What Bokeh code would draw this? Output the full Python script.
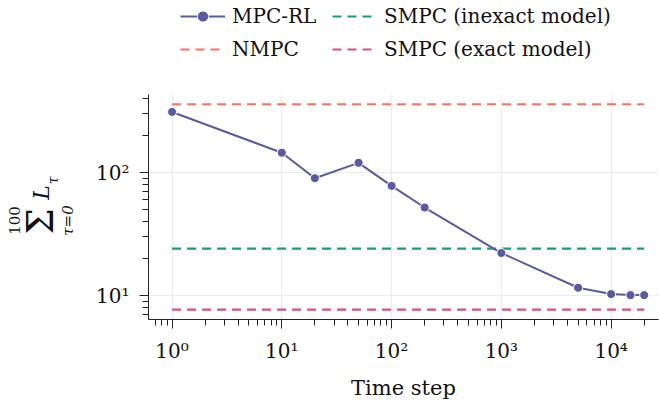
import math
from bokeh.plotting import figure
from bokeh.layouts import column, row
from bokeh.models import (Legend, LegendItem, CustomJSTickFormatter,
                          Range1d, FixedTicker)
from bokeh.core.properties import value
from bokeh.embed import file_html
from bokeh.resources import INLINE

# ---- data ----
steps = [1, 10, 20, 50, 100, 200, 1000, 5000, 10000, 15000, 20000]
mpc_rl = [311, 145, 90, 120, 78, 52, 22.2, 11.6, 10.3, 10.1, 10.1]
nmpc_value = 359
smpc_inexact_value = 24.1
smpc_exact_value = 7.7
y_major_ticks = [10, 100]
y_minor_ticks = [7, 8, 9, 20, 30, 40, 50, 60, 70, 80, 90, 200, 300, 400]

FONT = "DejaVu Serif"
C_RL = "#5a5aa0"
C_NMPC = "#ff6f5e"
C_SI = "#10a07a"
C_SE = "#dc5078"
DASH = "9 6"
NAN = float("nan")

TOP_H = 94
LEFT_W = 80
BOTTOM_B = 84
W, H = 659, 403

# ---------------- main plot ----------------
p = figure(width=W - LEFT_W, height=H - TOP_H, x_axis_type="log", y_axis_type="log",
           output_backend="svg", toolbar_location=None,
           x_range=Range1d(0.61, 27000), y_range=Range1d(6.4, 431),
           min_border_left=148 - LEFT_W, min_border_right=1, min_border_top=0,
           min_border_bottom=BOTTOM_B)
p.outline_line_color = None

xs = [steps[0], steps[-1]]
p.line(xs, [nmpc_value] * 2, line_color=C_NMPC, line_width=2.2, line_dash=DASH)
p.line(xs, [smpc_inexact_value] * 2, line_color=C_SI, line_width=2.2, line_dash=DASH)
p.line(xs, [smpc_exact_value] * 2, line_color=C_SE, line_width=2.2, line_dash=DASH)
p.line(steps, mpc_rl, line_color=C_RL, line_width=2)
p.scatter(steps, mpc_rl, size=9, fill_color=C_RL, line_color="white", line_width=1)

sup_js = """
const sup = {"-":"\u207b","0":"\u2070","1":"\u00b9","2":"\u00b2","3":"\u00b3","4":"\u2074","5":"\u2075","6":"\u2076","7":"\u2077","8":"\u2078","9":"\u2079"};
const e = Math.round(Math.log10(tick));
return "10" + String(e).split("").map(c => sup[c]).join("");
"""
p.yaxis[0].ticker = FixedTicker(ticks=y_major_ticks, minor_ticks=y_minor_ticks)
p.ygrid[0].ticker = p.yaxis[0].ticker
for ax in (p.xaxis[0], p.yaxis[0]):
    ax.formatter = CustomJSTickFormatter(code=sup_js)
    ax.axis_line_color = "#222222"
    ax.major_tick_line_color = "#222222"
    ax.minor_tick_line_color = "#222222"
    ax.major_tick_in = 0
    ax.major_tick_out = 9
    ax.minor_tick_in = 0
    ax.minor_tick_out = 6
    ax.major_label_text_font = FONT
    ax.major_label_text_font_size = "20px"
    ax.major_label_text_color = "#111111"
    ax.axis_label_text_font = FONT
    ax.axis_label_text_font_size = "21px"
    ax.axis_label_text_font_style = "normal"
    ax.axis_label_text_color = "#111111"
    ax.major_label_standoff = 10

p.xaxis.axis_label = "Time step"
p.xaxis.axis_label_standoff = 10
p.yaxis.axis_label = None

p.xgrid.grid_line_color = "#ebebf2"
p.ygrid.grid_line_color = "#ebebf2"
p.xgrid.grid_line_width = 1.2
p.ygrid.grid_line_width = 1.2

# ---------------- left panel: y label sum_{tau=0}^{100} L_tau ----------------
# In a row the plot frames are aligned, so this panel's frame spans the same
# vertical extent as the main frame; the range maps page pixels (from bottom).
pl = figure(width=LEFT_W, height=H - TOP_H, output_backend="svg", toolbar_location=None,
            x_range=Range1d(0, LEFT_W), y_range=Range1d(BOTTOM_B, H - TOP_H),
            min_border=0, min_border_bottom=BOTTOM_B, outline_line_color=None)
pl.axis.visible = False
pl.grid.visible = False

def lab(txt, cx, cy, size, italic=False):
    # cx, cy in page pixels (top-left origin)
    kw = dict(text_font_style="italic") if italic else {}
    pl.text(x=[cx], y=[H - cy], text=[txt], angle=math.pi / 2,
            text_align="center", text_baseline="middle",
            text_font=value(FONT), text_font_size=size,
            text_color="#111111", **kw)

lab("\u03a3", 40, 221, "37px")
lab("100", 14, 220, "15px")
lab("\u03c4=0", 67, 220, "15px", True)
lab("L", 41, 192, "22px", True)
lab("\u03c4", 52, 180, "14px", True)

# ---------------- top panel: legend ----------------
pt = figure(width=W, height=TOP_H, output_backend="svg", toolbar_location=None,
            x_range=Range1d(0, 1), y_range=Range1d(0, 1),
            min_border=0, outline_line_color=None)
pt.axis.visible = False
pt.grid.visible = False
g_line = pt.line([NAN], [NAN], line_color=C_RL, line_width=2)
g_pts = pt.scatter([NAN], [NAN], size=9, fill_color=C_RL, line_color="white", line_width=1)
g_nmpc = pt.line([NAN], [NAN], line_color=C_NMPC, line_width=2.2, line_dash=DASH)
g_si = pt.line([NAN], [NAN], line_color=C_SI, line_width=2.2, line_dash=DASH)
g_se = pt.line([NAN], [NAN], line_color=C_SE, line_width=2.2, line_dash=DASH)

legend = Legend(items=[
    LegendItem(label="MPC-RL", renderers=[g_line, g_pts]),
    LegendItem(label="NMPC", renderers=[g_nmpc]),
    LegendItem(label="SMPC (inexact model)", renderers=[g_si]),
    LegendItem(label="SMPC (exact model)", renderers=[g_se]),
], nrows=2, location=(180, 31))
legend.label_text_font = FONT
legend.label_text_font_size = "20px"
legend.label_text_color = "#111111"
legend.glyph_width = 45
legend.glyph_height = 28
legend.label_height = 28
legend.label_width = 95
legend.label_standoff = 7
legend.spacing = 5
legend.padding = 0
legend.margin = 0
legend.border_line_alpha = 0
legend.background_fill_alpha = 0
pt.add_layout(legend, "center")

layout = column(pt, row(pl, p, spacing=0), spacing=0)
open("out.html", "w").write(file_html(layout, INLINE))
